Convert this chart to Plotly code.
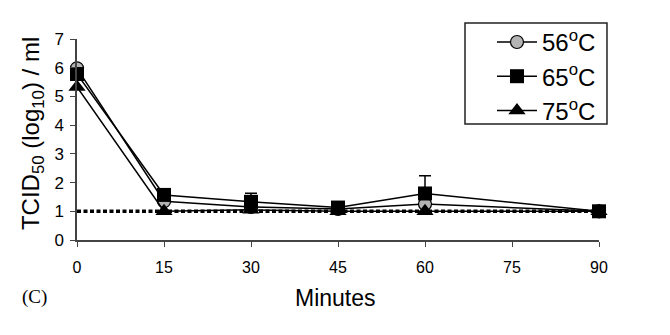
import plotly.graph_objects as go

minutes = [0, 15, 30, 45, 60, 90]
t56 = [5.98, 1.35, 1.15, 1.08, 1.25, 1.0]
t65 = [5.78, 1.57, 1.33, 1.13, 1.62, 1.0]
t65_err = [0.0, 0.0, 0.3, 0.0, 0.62, 0.0]
t75 = [5.33, 1.0, 1.05, 1.0, 1.0, 1.0]
detection_limit = 1.0

x_ticks = [0, 15, 30, 45, 60, 75, 90]
y_ticks = [0, 1, 2, 3, 4, 5, 6, 7]

FONT = "Liberation Sans, Arial, sans-serif"
line = dict(color="black", width=1.5)

fig = go.Figure()
fig.add_trace(go.Scatter(
    x=minutes, y=t56, mode="lines+markers", name="56<sup>o</sup>C", legendrank=1,
    line=line, cliponaxis=False,
    marker=dict(symbol="circle", size=13, color="#b4b4b4", line=dict(color="black", width=1.2)),
))
fig.add_trace(go.Scatter(
    x=minutes, y=t75, mode="lines+markers", name="75<sup>o</sup>C", legendrank=3,
    line=line, cliponaxis=False,
    marker=dict(symbol="triangle-up", size=15, color="black"),
))
fig.add_trace(go.Scatter(
    x=minutes, y=t65, mode="lines+markers", name="65<sup>o</sup>C", legendrank=2,
    line=line, cliponaxis=False,
    marker=dict(symbol="square", size=14, color="black"),
    error_y=dict(type="data", array=t65_err, arrayminus=[0] * len(t65_err),
                 symmetric=False, color="black", thickness=1.5, width=6),
))

# detection limit
fig.add_shape(type="line", xref="x", yref="y", x0=minutes[0], x1=minutes[-1],
              y0=detection_limit, y1=detection_limit,
              line=dict(color="black", width=3.5, dash="4px,2.5px"), layer="below")

# legend frame
fig.add_shape(type="rect", xref="paper", yref="paper",
              x0=0.7433, x1=1.0153, y0=0.577, y1=1.0796,
              line=dict(color="#222", width=1.5), fillcolor="rgba(0,0,0,0)")

fig.update_layout(
    width=670, height=335,
    margin=dict(l=77, r=71, t=39, b=95),
    paper_bgcolor="white", plot_bgcolor="white",
    font=dict(family=FONT, color="black", size=16),
    showlegend=True,
    legend=dict(x=0.795, y=1.095, xanchor="left", yanchor="top",
                bgcolor="rgba(0,0,0,0)", borderwidth=0,
                font=dict(size=24, family=FONT), tracegroupgap=0,
                itemwidth=40),
    xaxis=dict(range=[0, 90], tickvals=x_ticks, showgrid=False, zeroline=False,
               showline=True, linecolor="#444", linewidth=1.5,
               ticks="outside", ticklen=5, tickcolor="#444",
               tickfont=dict(size=16), ticklabelstandoff=7, title=None),
    yaxis=dict(range=[0, 7], tickvals=y_ticks, showgrid=False, zeroline=False,
               showline=True, linecolor="#444", linewidth=1.5,
               ticks="outside", ticklen=5, tickcolor="#444",
               tickfont=dict(size=17), ticklabelstandoff=3, title=None),
    annotations=[
        dict(text="TCID<sub>50</sub> (log<sub>10</sub>) / ml", xref="paper", yref="paper",
             x=0, y=0.527, xshift=-45, xanchor="center", yanchor="middle",
             textangle=-90, showarrow=False, font=dict(size=24, family=FONT)),
        dict(text="Minutes", xref="paper", yref="paper", x=0.5, y=0,
             xanchor="center", yanchor="middle", yshift=-58, xshift=-3,
             showarrow=False, font=dict(size=23, family=FONT)),
        dict(text="(C)", xref="paper", yref="paper", x=0, y=0, xshift=-43,
             yshift=-57, xanchor="center", yanchor="middle", showarrow=False,
             font=dict(size=19, family="Liberation Serif, serif")),
    ],
)

fig.write_html("out.html")
